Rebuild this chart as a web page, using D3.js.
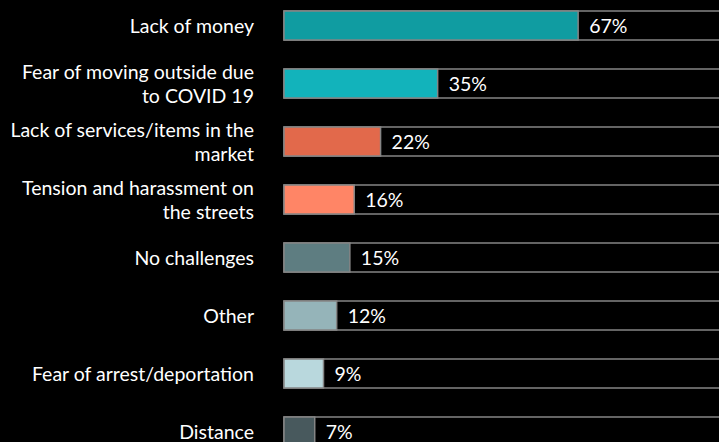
<!DOCTYPE html>
<html>
<head>
<meta charset="utf-8">
<script src="https://cdn.jsdelivr.net/npm/d3@7"></script>
<style>
  body { margin: 0; background: #000; overflow: hidden; }
  svg { display: block; }
</style>
</head>
<body>
<script>
var vizWidth = 719,
    vizHeight = 442;

// data
var categories = [
    "Lack of money",
    "Fear of moving outside due\nto COVID 19",
    "Lack of services/items in the\nmarket",
    "Tension and harassment on\nthe streets",
    "No challenges",
    "Other",
    "Fear of arrest/deportation",
    "Distance"
];
var values = [67, 35, 22, 16, 15, 12, 9, 7];
var barColors = ["#109ca1", "#12b3bb", "#e2694b", "#ff8566", "#5e7d81", "#95b4b9", "#b9d8dd", "#48595d"];

var rows = categories.map(function (c, i) {
    return { cat: c, value: values[i], color: barColors[i] };
});

var viz = d3.select("body").append("svg")
    .attr("width", vizWidth)
    .attr("height", vizHeight)
    .style("font-family", "Lato, 'Open Sans', sans-serif");

viz.append("rect")
    .attr("width", vizWidth)
    .attr("height", vizHeight)
    .attr("fill", "#000");

var x = d3.scaleLinear()
    .domain([0, 100])
    .range([284, 723]);

var y = d3.scaleBand()
    .domain(categories)
    .range([-18, 475])
    .padding(0.5);

var rowsG = viz.selectAll("g.row")
    .data(rows)
    .enter()
    .append("g")
    .attr("class", "row");

// grey track to 100%
rowsG.append("rect")
    .attr("x", x(0))
    .attr("y", function (d) { return y(d.cat); })
    .attr("width", x(100) - x(0))
    .attr("height", y.bandwidth())
    .attr("fill", "#000")
    .attr("stroke", "#858585")
    .attr("stroke-width", 1.5);

rowsG.append("rect")
    .attr("x", x(0))
    .attr("y", function (d) { return y(d.cat); })
    .attr("width", function (d) { return x(d.value) - x(0); })
    .attr("height", y.bandwidth())
    .attr("fill", function (d) { return d.color; })
    .attr("stroke", "#858585")
    .attr("stroke-width", 1.5);

// value labels
rowsG.append("text")
    .attr("x", function (d) { return x(d.value) + 11; })
    .attr("y", function (d) { return y(d.cat) + y.bandwidth() / 2; })
    .attr("dy", "0.36em")
    .attr("fill", "#fff")
    .style("font-size", "19.5px")
    .text(function (d) { return d.value + "%"; });

// category labels, split on line breaks
var lineHeight = 24;
rowsG.append("text")
    .attr("text-anchor", "end")
    .attr("fill", "#fff")
    .style("font-size", "19.5px")
    .each(function (d) {
        var lines = d.cat.split("\n");
        var cy = y(d.cat) + y.bandwidth() / 2;
        var top = cy - (lines.length - 1) * lineHeight / 2;
        var t = d3.select(this);
        lines.forEach(function (line, i) {
            t.append("tspan")
                .attr("x", 254)
                .attr("y", top + i * lineHeight)
                .attr("dy", "0.36em")
                .text(line);
        });
    });
</script>
</body>
</html>
